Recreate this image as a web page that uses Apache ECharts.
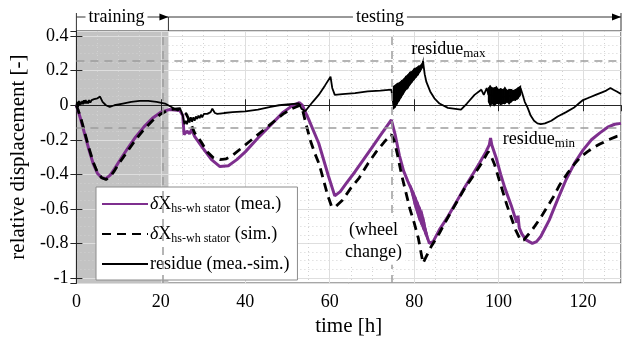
<!DOCTYPE html>
<html><head><meta charset="utf-8">
<script src="https://cdn.jsdelivr.net/npm/echarts@6/dist/echarts.min.js"></script>
<style>html,body{margin:0;padding:0;background:#fff}#c{width:622px;height:342px}</style>
</head><body><div id="c"></div>
<script>
const FONT = 'Liberation Serif';
// measured displacement (time [h], value)
const meaPts = [[0,0],[1,-0.08],[2,-0.17],[3,-0.26],[4,-0.34],[5,-0.395],[6,-0.42],[7,-0.425],[8,-0.405],[9,-0.37],[10,-0.33],[12,-0.255],[14,-0.185],[16,-0.125],[18,-0.075],[20,-0.04],[22,-0.025],[24.5,-0.03],[25.2,-0.06],[25.5,-0.17],[26.2,-0.15],[26.8,-0.165],[27.3,-0.14],[28,-0.18],[30,-0.25],[32,-0.315],[34,-0.355],[36,-0.35],[38,-0.315],[40,-0.27],[43,-0.19],[46,-0.115],[49,-0.04],[51,-0.005],[52.8,0.015],[53.5,0.0],[55,-0.08],[57.4,-0.22],[59.7,-0.41],[61.2,-0.525],[62.5,-0.5],[64,-0.45],[66,-0.385],[68,-0.315],[70,-0.245],[72,-0.175],[74.6,-0.085],[75.5,-0.17],[76.5,-0.29],[77.5,-0.38],[78.5,-0.44],[79.3,-0.485],[80,-0.54],[80.5,-0.575],[81,-0.61],[81.5,-0.64],[82,-0.67],[82.5,-0.71],[83,-0.755],[83.6,-0.8],[84.5,-0.79],[86,-0.72],[88,-0.645],[90,-0.56],[92,-0.475],[94,-0.395],[95.5,-0.335],[97,-0.27],[97.8,-0.23],[98.1,-0.19],[98.4,-0.23],[98.7,-0.22],[99.5,-0.31],[100.5,-0.4],[101.5,-0.48],[103,-0.58],[104.3,-0.68],[104.6,-0.64],[104.9,-0.71],[105.5,-0.745],[106.5,-0.78],[108,-0.8],[109,-0.79],[110,-0.76],[112,-0.665],[114,-0.545],[116,-0.43],[118,-0.335],[120,-0.26],[122,-0.2],[124,-0.16],[126,-0.125],[127.5,-0.11],[129,-0.105]];
// noisy band of the measured curve after the wheel change (time, low, high)
const meaBand = [[79.3,-0.5,-0.47],[80,-0.57,-0.51],[80.5,-0.61,-0.54],[81,-0.65,-0.57],[81.5,-0.68,-0.6],[82,-0.71,-0.63],[82.5,-0.74,-0.68],[83,-0.77,-0.74],[83.3,-0.78,-0.77]];
// simulated displacement
const simPts = [[0,0],[1,-0.07],[2,-0.16],[3,-0.25],[4,-0.33],[5,-0.39],[6,-0.42],[7,-0.43],[8,-0.415],[9,-0.38],[10,-0.34],[12,-0.27],[14,-0.2],[16,-0.14],[18,-0.09],[20,-0.05],[22,-0.025],[24.5,-0.02],[26,-0.05],[27,-0.1],[28,-0.16],[29.5,-0.21],[31,-0.27],[32.5,-0.305],[34,-0.315],[35.5,-0.31],[37,-0.29],[39,-0.25],[41,-0.21],[43,-0.17],[45,-0.13],[47,-0.09],[49,-0.05],[51,-0.02],[53,0.0],[53.5,-0.02],[54.5,-0.12],[55.5,-0.21],[56.5,-0.28],[57.5,-0.34],[58.5,-0.43],[59.5,-0.52],[60.5,-0.59],[61.5,-0.585],[63,-0.55],[65,-0.48],[67,-0.42],[69,-0.34],[71,-0.27],[73,-0.21],[74.6,-0.17],[75.2,-0.2],[76,-0.28],[77,-0.4],[78,-0.5],[79,-0.6],[80,-0.68],[81,-0.77],[82.1,-0.915],[82.8,-0.88],[84,-0.82],[86,-0.74],[88,-0.65],[90,-0.565],[92,-0.48],[94,-0.41],[96,-0.335],[97.5,-0.27],[98,-0.28],[99,-0.34],[100,-0.42],[101,-0.5],[102,-0.58],[103,-0.65],[104,-0.72],[105.3,-0.785],[106,-0.78],[107,-0.75],[108,-0.72],[110,-0.65],[112,-0.57],[113,-0.53],[114.5,-0.46],[116.3,-0.395],[118,-0.34],[119.4,-0.3],[121,-0.27],[122.5,-0.245],[124,-0.225],[126,-0.2],[128,-0.18],[129,-0.175]];
// residue (mea.-sim.)
const resPts = [[0,0],[0.2,0.02],[0.4,-0.01],[0.6,0.025],[0.8,0.0],[1,0.02],[1.2,0.005],[1.4,0.025],[1.6,0.005],[1.8,0.03],[2,0.01],[2.2,0.03],[2.4,0.01],[2.6,0.025],[2.8,0.01],[3,0.03],[3.3,0.015],[3.6,0.03],[3.9,0.02],[4.2,0.035],[4.5,0.025],[5,0.04],[5.6,0.05],[6.2,0.02],[7,0.0],[7.9,-0.01],[9,0.0],[11,0.01],[13,0.02],[15,0.025],[17,0.025],[19,0.02],[21,0.01],[22.5,-0.01],[24,-0.03],[24.6,-0.02],[25.2,-0.06],[25.6,-0.11],[25.9,-0.09],[26.2,-0.11],[26.5,-0.08],[26.8,-0.1],[27.1,-0.07],[27.4,-0.095],[27.7,-0.07],[28,-0.09],[28.3,-0.065],[28.6,-0.08],[28.9,-0.06],[29.2,-0.075],[29.5,-0.055],[29.8,-0.07],[30.2,-0.05],[31,-0.05],[31.8,-0.04],[32.2,-0.02],[32.8,-0.045],[33.4,-0.05],[35,-0.045],[37,-0.04],[40,-0.035],[43,-0.025],[46,-0.01],[48,0.0],[50,0.005],[52.7,0.01],[53.3,-0.02],[54.2,-0.035],[55,-0.01],[56,0.02],[57.4,0.06],[58.9,0.115],[60.2,0.165],[60.6,0.1],[61.2,0.06],[63,0.065],[66,0.07],[69,0.08],[72,0.085],[74.6,0.09],[75.0,0.09],[75.1,0.0],[76,0.07],[77,0.095],[78,0.13],[79,0.155],[80,0.18],[81,0.2],[82,0.235],[82.1,0.255],[82.5,0.18],[82.9,0.135],[83.8,0.08],[84.8,0.04],[86,0.01],[88,-0.015],[91.1,-0.025],[92.5,0.01],[94.3,0.06],[95.9,0.09],[96.5,0.06],[97.2,0.1],[97.6,0.06],[98.2,0.06],[99,0.05],[100,0.05],[101,0.05],[102,0.05],[103,0.055],[104,0.06],[104.6,0.07],[105.2,0.1],[105.6,0.07],[106.2,0.02],[106.9,-0.015],[107.6,-0.06],[108.4,-0.09],[109.2,-0.105],[110,-0.11],[111,-0.105],[112.5,-0.09],[114,-0.065],[116,-0.04],[117.8,-0.015],[119,0.01],[120,0.03],[121.5,0.045],[123,0.06],[124.5,0.075],[125.5,0.085],[126.5,0.1],[127.2,0.09],[128,0.08],[129,0.065]];
// noisy bands of the residue (time, low, high)
const resBandA = [[75.1,-0.02,0.11],[75.5,-0.01,0.115],[76,0.01,0.125],[76.5,0.03,0.13],[77,0.05,0.14],[77.5,0.07,0.15],[78,0.09,0.165],[78.5,0.1,0.175],[79,0.12,0.19],[79.5,0.135,0.195],[80,0.15,0.21],[80.5,0.165,0.215],[81,0.18,0.225],[81.5,0.2,0.23],[82,0.22,0.245],[82.1,0.25,0.255]];
const resBandB = [[97.6,0.02,0.1],[98,0.0,0.11],[98.5,0.01,0.1],[99,0.0,0.1],[99.5,0.01,0.105],[100,0.01,0.09],[100.5,0.005,0.095],[101,0.01,0.09],[101.5,0.01,0.1],[102,0.02,0.085],[102.5,0.01,0.09],[103,0.02,0.09],[103.5,0.03,0.085],[104,0.03,0.09],[104.6,0.04,0.1],[105.2,0.06,0.11]];
// reference lines / regions
const trainingEnd = 21.8;
const vLines = [20.4, 74.65];
const residueMax = 0.255, residueMin = -0.126;
const xRange = [0, 129], yRange = [-1.03, 0.43];

const chart = echarts.init(document.getElementById('c'));
const axisCol = '#262626';
const PURPLE = '#7E2F8E';
const legendNames = {
  mea: '{it|δ}X{sub|hs-wh stator} (mea.)',
  sim: '{it|δ}X{sub|hs-wh stator} (sim.)',
  res: 'residue (mea.-sim.)'
};
function bandSeries(name, band, color, z) {
  return {name, type:'custom', data:band, encode:{x:0, y:[1,2]}, z, silent:true, clip:true,
    renderItem:(params, api) => {
      const i = params.dataIndex;
      if (i >= band.length - 1) return {type:'group', children:[]};
      const a = band[i], b = band[i+1];
      return {type:'polygon', shape:{points:[api.coord([a[0],a[1]]), api.coord([b[0],b[1]]), api.coord([b[0],b[2]]), api.coord([a[0],a[2]])]},
        style:{fill:color, stroke:color, lineWidth:1.2}};
    }};
}
const xCommon = {type:'value', min:xRange[0], max:xRange[1], interval:20, z:1.5};
const yCommon = {type:'value', min:yRange[0], max:yRange[1], splitNumber:7, minInterval:0.2, maxInterval:0.2, z:1.5};
const option = {
  animation:false,
  grid:{left:73, right:1, top:31, bottom:54, show:true, borderColor:axisCol, borderWidth:1, backgroundColor:'transparent'},
  legend:{
    data:['mea','sim','res'], orient:'vertical', left:96, top:187,
    itemWidth:46, itemHeight:14, itemGap:8, padding:[6,8,5,5],
    backgroundColor:'#fff', borderColor:'#8c8c8c', borderWidth:1,
    itemStyle:{opacity:0},
    formatter: n => legendNames[n],
    textStyle:{fontFamily:FONT, fontSize:18, color:'#000', lineHeight:22, padding:[0,0,0,-3], rich:{
      it:{fontFamily:FONT, fontSize:18, fontStyle:'italic', lineHeight:22},
      sub:{fontFamily:FONT, fontSize:12, verticalAlign:'bottom', lineHeight:13}
    }}
  },
  xAxis:[
    Object.assign({}, xCommon, {position:'bottom', name:'time [h]', nameLocation:'middle', nameGap:28,
      nameTextStyle:{fontFamily:FONT, fontSize:21, color:'#000'},
      axisLine:{show:true, lineStyle:{color:axisCol}},
      axisTick:{inside:true, length:6, lineStyle:{color:axisCol}},
      axisLabel:{fontFamily:FONT, fontSize:18, color:'#000', margin:10, showMaxLabel:false},
      splitLine:{show:true, lineStyle:{color:'#dedede', width:1}},
      minorTick:{show:false, splitNumber:4},
      minorSplitLine:{show:true, lineStyle:{color:'#d2d2d2', type:[1,3], width:1}}}),
    Object.assign({}, xCommon, {position:'top',
      axisLine:{show:true, lineStyle:{color:axisCol}},
      axisTick:{inside:true, length:6, lineStyle:{color:axisCol}},
      axisLabel:{show:false}, splitLine:{show:false}})
  ],
  yAxis:[
    Object.assign({}, yCommon, {position:'left', name:'relative displacement [-]', nameLocation:'middle', nameGap:46,
      nameTextStyle:{fontFamily:FONT, fontSize:21, color:'#000'},
      axisLine:{show:true, lineStyle:{color:axisCol}},
      axisTick:{inside:true, length:6, lineStyle:{color:axisCol}},
      axisLabel:{fontFamily:FONT, fontSize:18, color:'#000', margin:8, showMinLabel:false, showMaxLabel:false},
      splitLine:{show:true, lineStyle:{color:'#dedede', width:1}},
      minorTick:{show:false, splitNumber:4},
      minorSplitLine:{show:true, lineStyle:{color:'#d2d2d2', type:[1,3], width:1}}}),
    Object.assign({}, yCommon, {position:'right',
      axisLine:{show:true, lineStyle:{color:axisCol}},
      axisTick:{inside:true, length:6, lineStyle:{color:axisCol}},
      axisLabel:{show:false}, splitLine:{show:false}})
  ],
  series:[
    {name:'bg', type:'line', data:[], z:1, silent:true,
      markArea:{silent:true, itemStyle:{color:'#c3c3c3'}, data:[[{xAxis:xRange[0]},{xAxis:trainingEnd}]]}},
    {name:'ref', type:'line', data:[], z:1.6, silent:true,
      markLine:{silent:true, symbol:'none', label:{show:false},
        lineStyle:{color:'#9d9d9d', type:[8,6], width:1.5},
        data:[{xAxis:vLines[0]},{xAxis:vLines[1]},{yAxis:residueMax},{yAxis:residueMin}]},
      markPoint:{symbolSize:0, silent:true, label:{show:true, position:'right', distance:0, color:'#000', fontFamily:FONT, fontSize:18,
          rich:{b:{fontFamily:FONT, fontSize:18, lineHeight:22}, s:{fontFamily:FONT, fontSize:13, verticalAlign:'bottom', lineHeight:14}}},
        data:[
          {coord:[79.3, 0.326], label:{formatter:'{b|residue}{s|max}'}},
          {coord:[101.0, -0.198], label:{formatter:'{b|residue}{s|min}'}},
          {coord:[70.4, -0.79], label:{position:'inside', formatter:'(wheel\nchange)', lineHeight:22, align:'center', backgroundColor:'#fff', padding:[1,3]}}
        ]}},
    {name:'mea', type:'line', data:meaPts, symbol:'none', z:2, lineStyle:{color:PURPLE, width:3}, itemStyle:{color:PURPLE}},
    bandSeries('meaBand', meaBand, PURPLE, 2),
    {name:'sim', type:'line', data:simPts, symbol:'none', z:3, lineStyle:{color:'#000', width:2.8, type:[9,6]}, itemStyle:{color:'#000'}},
    {name:'res', type:'line', data:resPts, symbol:'none', z:4, lineStyle:{color:'#000', width:1.8}, itemStyle:{color:'#000'}},
    bandSeries('resBandA', resBandA, '#000', 4),
    bandSeries('resBandB', resBandB, '#000', 4)
  ]
};
chart.setOption(option);

// top bracket "training" / "testing"
const px = t => chart.convertToPixel({xAxisIndex:0}, t);
const x0 = px(xRange[0]), x1 = px(trainingEnd), x2 = px(xRange[1]);
const yL = 17, yT = 13, yB = 31;
const lineSt = {stroke:'#333', lineWidth:1};
const arrow = x => ({type:'polygon', shape:{points:[[x,yL],[x-9,yL-3.5],[x-9,yL+3.5]]}, style:{fill:'#000'}});
chart.setOption({graphic:[
  {type:'line', shape:{x1:x0, y1:yT, x2:x0, y2:yB}, style:lineSt},
  {type:'line', shape:{x1:x0, y1:yL, x2:x1, y2:yL}, style:lineSt},
  {type:'line', shape:{x1:x1, y1:yL, x2:x1, y2:yB}, style:lineSt},
  {type:'line', shape:{x1:x1, y1:yL, x2:x2, y2:yL}, style:lineSt},
  {type:'line', shape:{x1:x2, y1:yT, x2:x2, y2:yB}, style:lineSt},
  arrow(x1), arrow(x2),
  {type:'text', x:px(9.5), y:yL, style:{text:'training', fontFamily:FONT, fontSize:18, fill:'#000', align:'center', verticalAlign:'middle', backgroundColor:'#fff', padding:[0,3]}},
  {type:'text', x:px(71.9), y:yL, style:{text:'testing', fontFamily:FONT, fontSize:18, fill:'#000', align:'center', verticalAlign:'middle', backgroundColor:'#fff', padding:[0,3]}}
]});
</script></body></html>
